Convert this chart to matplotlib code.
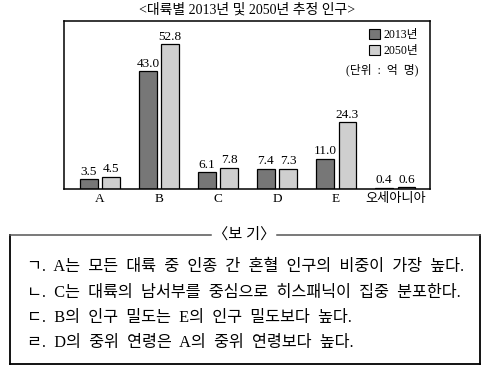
import matplotlib
matplotlib.use("Agg")
import matplotlib.pyplot as plt
from matplotlib.lines import Line2D
from matplotlib.patches import Rectangle
import numpy as np

plt.rcParams['font.family'] = ['Liberation Serif', 'Noto Sans CJK KR']

# ── data ──────────────────────────────────────────────
regions = ["A", "B", "C", "D", "E", "오세아니아"]
pop_2013 = [3.5, 43.0, 6.1, 7.4, 11.0, 0.4]
pop_2050 = [4.5, 52.8, 7.8, 7.3, 24.3, 0.6]
series_labels = ["2013년", "2050년"]
title = "<대륙별 2013년 및 2050년 추정 인구>"
unit_text = "(단위 : 억 명)"
box_title = "〈보 기〉"
statements = [
    "ㄱ. A는 모든 대륙 중 인종 간 혼혈 인구의 비중이 가장 높다.",
    "ㄴ. C는 대륙의 남서부를 중심으로 히스패닉이 집중 분포한다.",
    "ㄷ. B의 인구 밀도는 E의 인구 밀도보다 높다.",
    "ㄹ. D의 중위 연령은 A의 중위 연령보다 높다.",
]

W, H = 489, 375
fig = plt.figure(figsize=(W / 100, H / 100), dpi=100)


def px(x0, y0, x1, y1):
    # pixel box (top-left origin) -> figure fraction rect
    return [x0 / W, 1 - y1 / H, (x1 - x0) / W, (y1 - y0) / H]


ax = fig.add_axes(px(64, 21, 430, 189))
x = np.arange(len(regions))
bw, off = 0.30, 0.19
dark, light = "#777777", "#cfcfcf"
b1 = ax.bar(x - off, pop_2013, bw, color=dark, edgecolor="black", linewidth=0.9)
b2 = ax.bar(x + off, pop_2050, bw, color=light, edgecolor="black", linewidth=0.9)
for bars, vals in ((b1, pop_2013), (b2, pop_2050)):
    for r, v in zip(bars, vals):
        ax.text(r.get_x() + r.get_width() / 2, v + 0.6, f"{v:.1f}",
                ha="center", va="bottom", fontsize=9.5)

ax.set_xlim(-0.61, 5.59)
ax.set_ylim(0, 61.3)
ax.set_yticks([])
ax.set_xticks(x)
ax.set_xticklabels(regions, fontsize=9.5)
ax.tick_params(axis="x", length=0, pad=3)
for s in ax.spines.values():
    s.set_linewidth(1.1)

handles = [Rectangle((0, 0), 1, 1, facecolor=c, edgecolor="black", linewidth=0.8)
           for c in (dark, light)]
ax.legend(handles, series_labels, loc="upper right", bbox_to_anchor=(0.985, 0.985),
          frameon=False, fontsize=8.5, handlelength=0.9, handleheight=0.9,
          handletextpad=0.35, labelspacing=0.3, borderpad=0)
ax.text(0.967, 0.71, unit_text.replace(" ", "  "), transform=ax.transAxes,
        ha="right", va="center", fontsize=8.5)

fig.text(247 / W, 1 - 10 / H, title, ha="center", va="center", fontsize=10)

# ── 보기 box ──────────────────────────────────────────
yt = 1 - 235 / H
yb = 1 - 364 / H
xl, xr = 10 / W, 480 / W
kw = dict(transform=fig.transFigure, color="black", linewidth=1.3)
fig.add_artist(Line2D([xl, xl], [yb, yt], **kw))
fig.add_artist(Line2D([xr, xr], [yb, yt], **kw))
fig.add_artist(Line2D([xl, xr], [yb, yb], **kw))
kw2 = dict(transform=fig.transFigure, color="#555555", linewidth=1.1)
fig.add_artist(Line2D([xl, 211 / W], [yt, yt], **kw2))
fig.add_artist(Line2D([277 / W, xr], [yt, yt], **kw2))
fig.text(244 / W, yt, box_title, ha="center", va="center", fontsize=11)

for i, s in enumerate(statements):
    # wider word gaps, as in the printed original
    fig.text(27 / W, 1 - (267 + 25.5 * i) / H, s.replace(" ", "  "),
             ha="left", va="center", fontsize=11.7)

fig.savefig("out.png", dpi=100)
